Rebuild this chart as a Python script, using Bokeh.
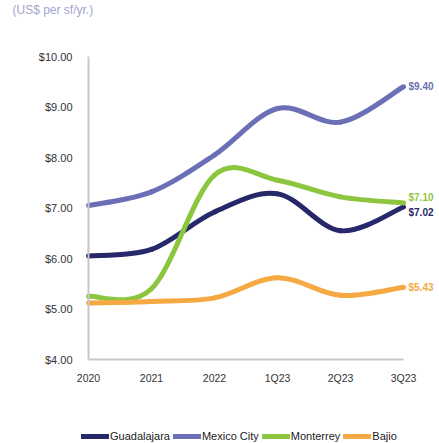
from bokeh.plotting import figure
from bokeh.models import (Range1d, FixedTicker, NumeralTickFormatter, Label, Legend,
                          LegendItem, ColumnDataSource)
from bokeh.core.properties import value
from bokeh.embed import file_html
from bokeh.resources import INLINE

# ---- data ----
periods = ["2020", "2021", "2022", "1Q23", "2Q23", "3Q23"]
markets = ["Guadalajara", "Mexico City", "Monterrey", "Bajio"]
guadalajara = [6.05, 6.18, 6.92, 7.28, 6.55, 7.02]
mexico_city = [7.05, 7.32, 8.05, 8.97, 8.70, 9.40]
monterrey = [5.25, 5.40, 7.65, 7.55, 7.22, 7.10]
bajio = [5.12, 5.15, 5.22, 5.62, 5.27, 5.43]
y_ticks = [4, 5, 6, 7, 8, 9, 10]

series = [guadalajara, mexico_city, monterrey, bajio]
colors = ["#27286a", "#6b6fb6", "#8cc63f", "#f6a843"]
end_label_dy = [6, 0, -5, 0]  # pixel nudges to avoid overlap

FONT = "Liberation Sans"
W, H = 439, 443
X0_PX, XSCALE = 88, 63.0
Y4_PX, Y10_PX = 359, 56
YSCALE = (Y4_PX - Y10_PX) / 6.0

p = figure(width=W, height=H, output_backend="svg", toolbar_location=None,
           x_range=Range1d(-X0_PX / XSCALE, (W - X0_PX) / XSCALE),
           y_range=Range1d(4 - (H - Y4_PX) / YSCALE, 10 + Y10_PX / YSCALE),
           min_border=0, min_border_left=0, min_border_right=0,
           min_border_top=0, min_border_bottom=0)
p.outline_line_color = None
p.xgrid.visible = False
p.ygrid.visible = False

xs = list(range(len(periods)))


def bezier_segments(x, y):
    n = len(x)
    d = dict(x0=[], y0=[], x1=[], y1=[], cx0=[], cy0=[], cx1=[], cy1=[])
    for i in range(n - 1):
        im = max(i - 1, 0)
        ip2 = min(i + 2, n - 1)
        d["x0"].append(x[i]); d["y0"].append(y[i])
        d["x1"].append(x[i + 1]); d["y1"].append(y[i + 1])
        d["cx0"].append(x[i] + (x[i + 1] - x[im]) / 6.0)
        d["cy0"].append(y[i] + (y[i + 1] - y[im]) / 6.0)
        d["cx1"].append(x[i + 1] - (x[ip2] - x[i]) / 6.0)
        d["cy1"].append(y[i + 1] - (y[ip2] - y[i]) / 6.0)
    return d


items = []
for name, vals, col in zip(markets, series, colors):
    src = ColumnDataSource(bezier_segments(xs, vals))
    r = p.bezier(x0="x0", y0="y0", x1="x1", y1="y1", cx0="cx0", cy0="cy0",
                 cx1="cx1", cy1="cy1", source=src, line_color=col, line_width=5,
                 line_cap="round")
    items.append(LegendItem(label=name, renderers=[r]))

# end labels
for vals, col, dy in zip(series, colors, end_label_dy):
    p.text(x=[xs[-1]], y=[vals[-1]], text=["$%.2f" % vals[-1]], x_offset=5, y_offset=dy,
           text_color=col, text_font=value(FONT), text_font_style="bold",
           text_font_size="10px", text_baseline="middle", text_align="left")

# axes
xa = p.xaxis[0]
xa.fixed_location = 4
xa.bounds = (0, 5)
xa.ticker = FixedTicker(ticks=xs)
xa.major_label_overrides = {i: s for i, s in enumerate(periods)}
ya = p.yaxis[0]
ya.fixed_location = 0
ya.bounds = (4, 10)
ya.ticker = FixedTicker(ticks=y_ticks)
ya.formatter = NumeralTickFormatter(format="$0.00")
for ax in (xa, ya):
    ax.axis_line_color = "#c8c8c8"
    ax.axis_line_width = 2
    ax.major_tick_line_color = None
    ax.minor_tick_line_color = None
    ax.major_tick_out = 0
    ax.major_tick_in = 0
    ax.minor_tick_out = 0
    ax.major_label_text_font = FONT
    ax.major_label_text_color = "#333333"
xa.major_label_text_font_size = "10.5px"
ya.major_label_text_font_size = "11px"
xa.major_label_standoff = 12
ya.major_label_standoff = 16

# subtitle
p.add_layout(Label(x=12, y=H - 9, x_units="screen", y_units="screen",
                   text="(US$ per sf/yr.)", text_font=FONT, text_font_size="12px",
                   text_color="#a3a4d0", text_baseline="middle"))

legend = Legend(items=items, orientation="horizontal", location=(81, 1),
                glyph_width=28, glyph_height=8, label_standoff=1, spacing=3,
                label_text_font=FONT, label_text_font_size="11px",
                label_text_color="#222222", border_line_color=None,
                background_fill_alpha=0, padding=2, margin=0)
p.add_layout(legend)

open("out.html", "w").write(file_html(p, INLINE))
